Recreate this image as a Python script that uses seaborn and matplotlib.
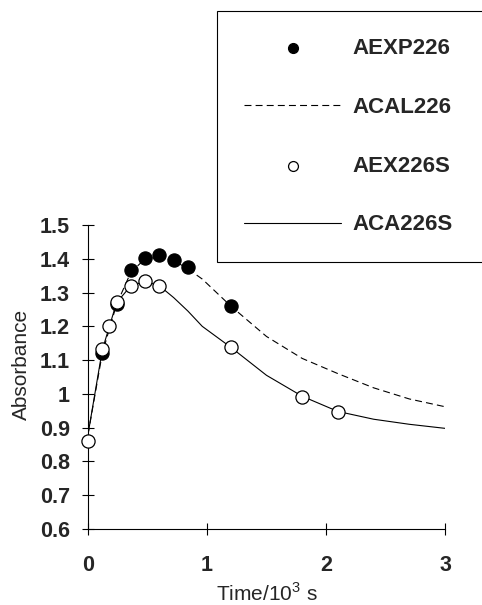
import matplotlib
matplotlib.use('Agg')
import matplotlib.pyplot as plt
import seaborn as sns

# Measured points (time in 10^3 s, absorbance)
exp_t = [0.12, 0.24, 0.36, 0.48, 0.60, 0.72, 0.84, 1.20]
exp_a = [1.12, 1.265, 1.367, 1.402, 1.41, 1.397, 1.375, 1.261]

exs_t = [0.0, 0.12, 0.18, 0.24, 0.36, 0.48, 0.60, 1.20, 1.80, 2.10]
exs_a = [0.86, 1.132, 1.202, 1.273, 1.32, 1.333, 1.32, 1.138, 0.99, 0.945]

# Calculated curves
fit_t = [0.0, 0.12, 0.24, 0.36, 0.48, 0.60, 0.72, 0.84, 0.96, 1.20, 1.50, 1.80, 2.10, 2.40, 2.70, 3.00]
acal_a = [0.88, 1.12, 1.265, 1.36, 1.40, 1.405, 1.395, 1.37, 1.34, 1.26, 1.17, 1.105, 1.06, 1.018, 0.985, 0.962]
aca_s = [0.88, 1.13, 1.27, 1.32, 1.333, 1.32, 1.285, 1.245, 1.20, 1.138, 1.055, 0.993, 0.948, 0.925, 0.91, 0.898]

x_ticks = [0, 1, 2, 3]
y_ticks = [0.6, 0.7, 0.8, 0.9, 1.0, 1.1, 1.2, 1.3, 1.4, 1.5]

sns.set_style('ticks')
plt.rcParams['font.family'] = ['Liberation Sans', 'DejaVu Sans']
plt.rcParams['mathtext.fontset'] = 'custom'
plt.rcParams['mathtext.rm'] = 'Liberation Sans'
plt.rcParams['lines.scale_dashes'] = False

fig = plt.figure(figsize=(4.82, 6.05), dpi=100)
ax = fig.add_axes([88 / 482, 1 - 529 / 605, 357 / 482, 304 / 605])

# curves
sns.lineplot(x=fit_t, y=acal_a, ax=ax, color='black', linewidth=0.8,
             linestyle=(0, (5, 3)), label='ACAL226', zorder=2)
sns.lineplot(x=fit_t, y=aca_s, ax=ax, color='black', linewidth=0.8,
             label='ACA226S', zorder=2)

# points
sns.scatterplot(x=exp_t, y=exp_a, ax=ax, s=90, color='black', edgecolor='black',
                linewidth=0.9, label='AEXP226', zorder=3, clip_on=False)
sns.scatterplot(x=exs_t, y=exs_a, ax=ax, s=90, color='white', edgecolor='black',
                linewidth=0.9, label='AEX226S', zorder=4, clip_on=False)

ax.set_xlim(0, 3)
ax.set_ylim(0.6, 1.5)
ax.set_xticks(x_ticks)
ax.set_yticks(y_ticks)
ax.set_xticklabels([f'{v:g}' for v in x_ticks])
ax.set_yticklabels([f'{v:g}' for v in y_ticks])
sns.despine(ax=ax)
for side in ['left', 'bottom']:
    ax.spines[side].set_color('black')
    ax.spines[side].set_linewidth(0.8)

ax.tick_params(direction='inout', length=8, width=0.8, color='black', labelsize=15.5)
ax.tick_params(axis='y', pad=9)
ax.tick_params(axis='x', pad=15)
for lab in ax.get_xticklabels() + ax.get_yticklabels():
    lab.set_fontweight('bold')

ax.set_xlabel('Time/10$^{3}$ s', fontsize=15)
ax.set_ylabel('Absorbance', fontsize=15)
ax.xaxis.set_label_coords(0.5, -0.175)
ax.yaxis.set_label_coords(-0.16, 0.54)

# legend in the order of the original
handles, labels = ax.get_legend_handles_labels()
order = ['AEXP226', 'ACAL226', 'AEX226S', 'ACA226S']
hmap = dict(zip(labels, handles))
leg = ax.legend([hmap[k] for k in order], order,
                loc='upper left', bbox_to_anchor=(217 / 482, 1 - 12 / 605, 300 / 482, 0.001),
                bbox_transform=fig.transFigure, mode='expand', borderaxespad=0,
                frameon=True, fancybox=False, edgecolor='black', framealpha=1,
                markerscale=0.75, handlelength=4.4, handletextpad=0.5,
                labelspacing=1.7, borderpad=1.2,
                prop={'weight': 'bold', 'size': 16})
leg.get_frame().set_linewidth(0.8)

fig.savefig('out.png', dpi=100)
